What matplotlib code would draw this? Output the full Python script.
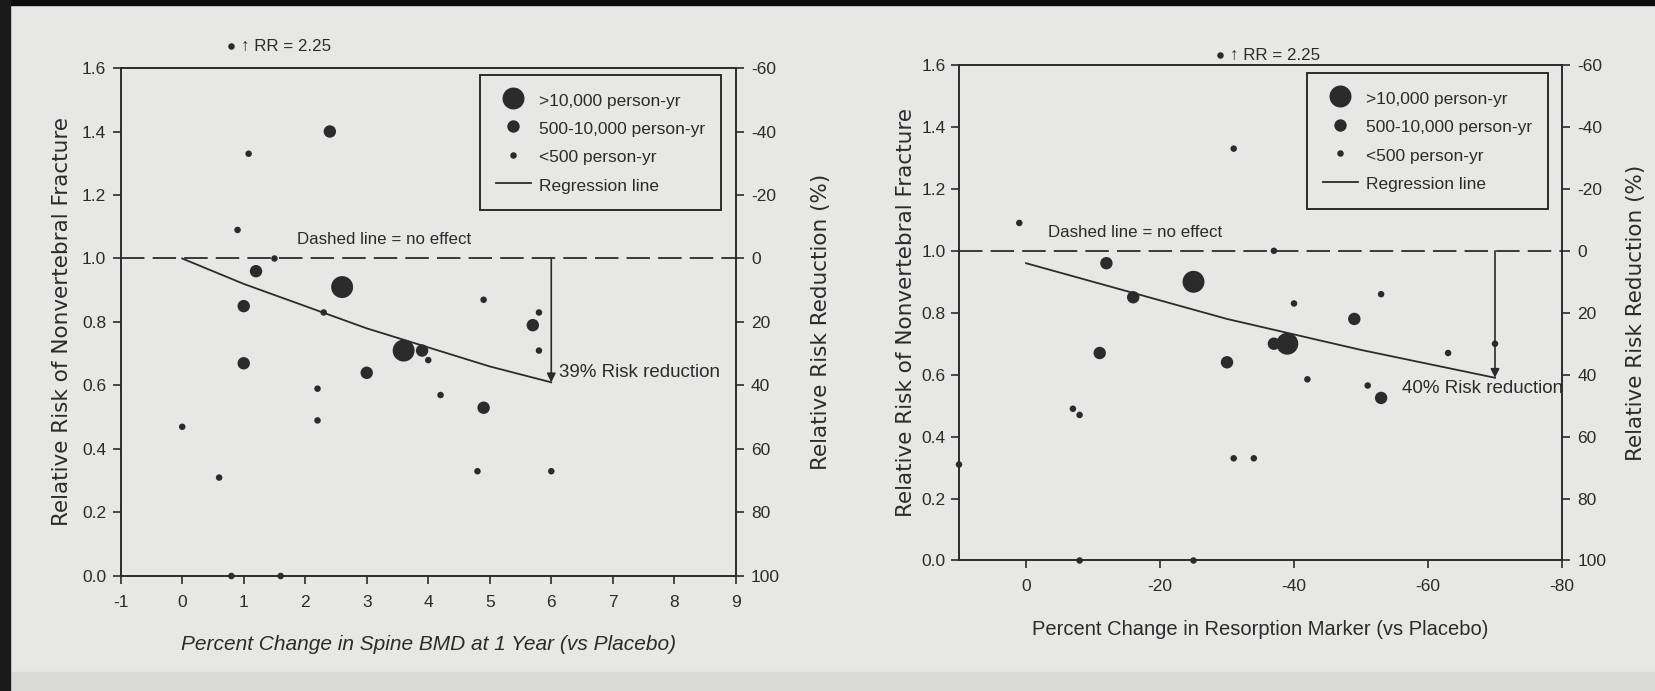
import numpy as np
import matplotlib.pyplot as plt
from matplotlib.lines import Line2D
from matplotlib.patches import Rectangle

plt.rcParams['font.family'] = ['Liberation Sans', 'DejaVu Sans']
plt.rcParams['axes.unicode_minus'] = False

INK = '#2b2b2b'
PAPER = '#e7e7e5'

# marker area per person-year class
SIZES = {'L': 250, 'M': 80, 'S': 22}
LEGEND_LABELS = ['>10,000 person-yr', '500-10,000 person-yr', '<500 person-yr', 'Regression line']

rr_ticks = [0.0, 0.2, 0.4, 0.6, 0.8, 1.0, 1.2, 1.4, 1.6]
reduction_ticks = [-60, -40, -20, 0, 20, 40, 60, 80, 100]

# spine BMD trials
bmd_change = [2.4, 1.08, 0.9, 1.5, 1.2, 2.6, 1.0, 2.3, 4.9, 5.7, 5.8, 5.8, 3.6, 3.9, 4.0,
              1.0, 3.0, 2.2, 4.2, 4.9, 2.2, 0.0, 0.6, 4.8, 6.0, 0.8, 1.6]
bmd_rr = [1.40, 1.33, 1.09, 1.00, 0.96, 0.91, 0.85, 0.83, 0.87, 0.79, 0.83, 0.71, 0.71, 0.71, 0.68,
          0.67, 0.64, 0.59, 0.57, 0.53, 0.49, 0.47, 0.31, 0.33, 0.33, 0.0, 0.0]
bmd_size = ['M', 'S', 'S', 'S', 'M', 'L', 'M', 'S', 'S', 'M', 'S', 'S', 'L', 'M', 'S',
            'M', 'M', 'S', 'S', 'M', 'S', 'S', 'S', 'S', 'S', 'S', 'S']
bmd_fit_x = [0, 1, 2, 3, 4, 5, 6]
bmd_fit_y = [1.00, 0.92, 0.85, 0.78, 0.72, 0.66, 0.61]
bmd_ticks = [-1, 0, 1, 2, 3, 4, 5, 6, 7, 8, 9]
bmd_offscale = (0.79, 1.668)

# resorption marker trials
marker_change = [1, -31, -37, -12, -25, -16, -40, -53, -49, -37, -39, -63, -70, -11, -30,
                 -42, -51, -53, -7, -8, 10, -31, -34, -8, -25]
marker_rr = [1.09, 1.33, 1.00, 0.96, 0.90, 0.85, 0.83, 0.86, 0.78, 0.70, 0.70, 0.67, 0.70, 0.67, 0.64,
             0.585, 0.565, 0.525, 0.49, 0.47, 0.31, 0.33, 0.33, 0.0, 0.0]
marker_size = ['S', 'S', 'S', 'M', 'L', 'M', 'S', 'S', 'M', 'M', 'L', 'S', 'S', 'M', 'M',
               'S', 'S', 'M', 'S', 'S', 'S', 'S', 'S', 'S', 'S']
marker_fit_x = [0, -10, -20, -30, -40, -50, -60, -70]
marker_fit_y = [0.96, 0.90, 0.84, 0.78, 0.73, 0.68, 0.635, 0.59]
marker_ticks = [0, -20, -40, -60, -80]
marker_offscale = (-28.9, 1.632)


def draw_panel(ax, x, y, size, fit_x, fit_y, xlim, xticks, xlabel, italic,
               offscale, rr_text_x, dash_text_x, pct_text, pct_xy, pct_ha, legend_anchor,
               ytick_pad, ylabel_pad, rlabel_pad):
    ax.set_facecolor('none')
    ax.scatter(x, y, s=[SIZES[k] for k in size], color=INK, linewidths=0,
               clip_on=False, zorder=3)

    # regression line and no-effect line
    ax.plot(fit_x, fit_y, color=INK, lw=1.3, zorder=2)
    ax.axhline(1.0, color=INK, lw=1.3, dashes=(13, 4.5), zorder=1)

    # drop from no effect down to the end of the regression line
    ax.annotate('', xy=(fit_x[-1], fit_y[-1]), xytext=(fit_x[-1], 1.0),
                arrowprops=dict(arrowstyle='-|>', color=INK, lw=1.2,
                                mutation_scale=13, shrinkA=0, shrinkB=0))
    ax.text(pct_xy[0], pct_xy[1], pct_text, ha=pct_ha, va='center',
            fontsize=13.5, color=INK)
    ax.text(dash_text_x, 1.06, 'Dashed line = no effect', ha='left', va='center',
            fontsize=12.2, color=INK)

    # study off the top of the scale
    ax.scatter([offscale[0]], [offscale[1]], s=SIZES['S'], color=INK,
               linewidths=0, clip_on=False)
    ax.text(rr_text_x, offscale[1], '\u2191 RR = 2.25', ha='left', va='center',
            fontsize=12.2, color=INK)

    ax.set_xlim(*xlim)
    ax.set_ylim(0, 1.6)
    ax.set_xticks(xticks)
    ax.set_xticklabels([str(t) for t in xticks])
    ax.set_yticks(rr_ticks)
    ax.set_yticklabels([f'{t:.1f}' for t in rr_ticks])
    ax.tick_params(direction='out', length=6, width=1.2, labelsize=12.5, colors=INK)
    ax.tick_params(axis='x', pad=7.5)
    ax.tick_params(axis='y', pad=ytick_pad)
    for sp in ax.spines.values():
        sp.set_linewidth(1.4)
        sp.set_color(INK)

    ax.set_xlabel(xlabel, fontsize=15 if italic else 14.5,
                  style='italic' if italic else 'normal', color=INK, labelpad=18.5)
    ax.set_ylabel('Relative Risk of Nonvertebral Fracture', family='DejaVu Sans',
                  fontsize=15.5, color=INK, labelpad=ylabel_pad)

    # risk reduction scale on the right
    ax2 = ax.twinx()
    ax2.set_ylim(100, -60)
    ax2.set_yticks(reduction_ticks)
    ax2.set_yticklabels([str(t) for t in reduction_ticks])
    ax2.tick_params(direction='out', length=6, width=1.2, labelsize=12.5,
                    colors=INK, pad=5)
    for sp in ax2.spines.values():
        sp.set_visible(False)
    ax2.set_ylabel('Relative Risk Reduction (%)', family='DejaVu Sans',
                   fontsize=15.5, color=INK, labelpad=rlabel_pad)

    handles = [Line2D([], [], ls='none', marker='o', color=INK, mec='none',
                      markersize=np.sqrt(SIZES[k])) for k in ['L', 'M', 'S']]
    handles.append(Line2D([], [], color=INK, lw=1.3))
    leg = ax.legend(handles, LEGEND_LABELS, loc='upper right', bbox_to_anchor=legend_anchor,
                    fontsize=12.5, frameon=True, fancybox=False, framealpha=1,
                    facecolor=PAPER, edgecolor=INK, handlelength=2.0, handleheight=1.3,
                    handletextpad=0.5, labelspacing=0.55, borderpad=0.9,
                    borderaxespad=0)
    leg.get_frame().set_linewidth(1.4)
    for t in leg.get_texts():
        t.set_color(INK)


fig = plt.figure(figsize=(16.55, 6.91), dpi=100, facecolor=PAPER)

# scanner edges
fig.patches.append(Rectangle((0, 0), 1, 0.027, transform=fig.transFigure,
                             color='#dadad8', zorder=0))
fig.patches.append(Rectangle((0, 0.993), 1, 0.007, transform=fig.transFigure,
                             color='#0c0c0c', zorder=0))
fig.patches.append(Rectangle((0, 0), 0.0062, 1, transform=fig.transFigure,
                             color='#1a1a1a', zorder=0))

ax_left = fig.add_axes([0.07293, 0.16643, 0.37166, 0.73516])
draw_panel(ax_left, bmd_change, bmd_rr, bmd_size, bmd_fit_x, bmd_fit_y,
           xlim=(-1, 9), xticks=bmd_ticks,
           xlabel='Percent Change in Spine BMD at 1 Year (vs Placebo)', italic=True,
           offscale=bmd_offscale, rr_text_x=0.96, dash_text_x=1.87,
           pct_text='39% Risk reduction', pct_xy=(6.12, 0.64), pct_ha='left',
           legend_anchor=(0.976, 0.987), ytick_pad=4.5, ylabel_pad=7, rlabel_pad=22)

ax_right = fig.add_axes([0.57946, 0.18886, 0.36435, 0.71707])
draw_panel(ax_right, marker_change, marker_rr, marker_size, marker_fit_x, marker_fit_y,
           xlim=(10, -80), xticks=marker_ticks,
           xlabel='Percent Change in Resorption Marker (vs Placebo)', italic=False,
           offscale=marker_offscale, rr_text_x=-30.4, dash_text_x=-3.3,
           pct_text='40% Risk reduction', pct_xy=(-80.2, 0.555), pct_ha='right',
           legend_anchor=(0.977, 0.984), ytick_pad=3.5, ylabel_pad=4, rlabel_pad=14)

fig.savefig('out.png', dpi=100, facecolor=PAPER)
plt.close()
